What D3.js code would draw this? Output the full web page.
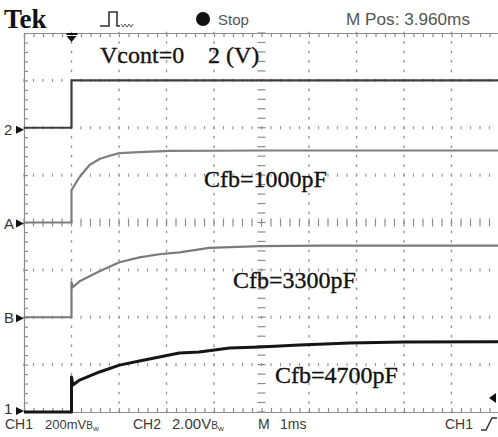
<!DOCTYPE html>
<html><head><meta charset="utf-8">
<script src="https://cdn.jsdelivr.net/npm/d3@7"></script>
<style>
html,body{margin:0;padding:0;background:#fff;}
svg{display:block;}
</style></head>
<body>
<svg id="c" width="498" height="437"></svg>
<script>
// ---- data (time in ms, CH2 in V, CH1 traces in mV) ----
const timeDomain = [-1, 9];           // 10 divisions, 1 ms/div
const divDomain = [-4, 4];            // 8 vertical divisions
const vcontTime = [-1, 0, 0, 9];
const vcontVolt = [0, 0, 2, 2];       // 0 -> 2 V step, 2 V/div
const cfb1000Time = [-1, 0, 0, 0.17, 0.38, 0.59, 0.80, 1.01, 1.43, 2.06, 3.0, 3.96, 9];
const cfb1000mV   = [0, 0, 137, 192, 243, 268, 282, 293, 297, 302, 303, 304, 304];
const cfb3300Time = [-1, 0, 0, 0.03, 0.17, 0.38, 0.59, 1.01, 1.43, 1.85, 2.27, 2.9, 3.96, 5.2, 9];
const cfb3300mV   = [0, 0, 148, 127, 152, 173, 194, 232, 253, 266, 274, 293, 300, 302, 302];
const cfb4700Time = [-1, 0, 0, 0.03, 0.17, 0.59, 1.01, 1.43, 1.85, 2.27, 2.69, 3.33, 3.96, 4.8, 5.85, 7, 9];
const cfb4700mV   = [0, 0, 148, 114, 135, 169, 198, 215, 232, 249, 253, 270, 274, 283, 291, 295, 297];
const groundDiv = {ch2: 2, A: 0, B: -2, ch1: -4};
const ch1mVperDiv = 200, ch2VperDiv = 2;
const labels = ["Cfb=1000pF", "Cfb=3300pF", "Cfb=4700pF"];
const footer = ["CH1", "200mV", "CH2", "2.00V", "M", "1ms", "CH1"];

const svg = d3.select("#c");
const x = d3.scaleLinear().domain(timeDomain).range([24, 499]);
const y = d3.scaleLinear().domain(divDomain).range([412, 33]);
const g = svg.append("g");

// ---- graticule ----
const minorX = d3.range(-1, 9.001, 0.2);
const minorY = d3.range(-4, 4.001, 0.2);
const majX = d3.range(0, 9.5, 1);
const majY = d3.range(-3, 3.5, 1);
majX.filter(t => t !== 4).forEach(t => {
  g.selectAll(null).data(minorY).enter().append("rect")
    .attr("x", x(t) - 0.7).attr("y", d => y(d) - 1.3).attr("width", 1.4).attr("height", 2.6)
    .attr("fill", "#959595");
});
majY.filter(v => v !== 0).forEach(v => {
  g.selectAll(null).data(minorX).enter().append("rect")
    .attr("x", d => x(d) - 0.6).attr("y", y(v) - 1.6).attr("width", 1.2).attr("height", 3.2)
    .attr("fill", "#9a9a9a");
});
g.selectAll(null).data(minorX).enter().append("line")
  .attr("x1", d => x(d)).attr("x2", d => x(d)).attr("y1", y(0) - 4).attr("y2", y(0) + 4)
  .attr("stroke", "#8a8a8a").attr("stroke-width", 1.2);
g.selectAll(null).data(minorY).enter().append("line")
  .attr("x1", x(4) - 4).attr("x2", x(4) + 4).attr("y1", d => y(d)).attr("y2", d => y(d))
  .attr("stroke", "#8a8a8a").attr("stroke-width", 1.2);
const topAx = d3.axisBottom(x).tickValues(minorX).tickSize(4).tickFormat("");
g.append("g").attr("transform", `translate(0,${y(4)})`).call(topAx);
const botAx = d3.axisTop(x).tickValues(minorX).tickSize(4).tickFormat("");
g.append("g").attr("transform", `translate(0,${y(-4)})`).call(botAx);
const leftAx = d3.axisRight(y).tickValues(minorY).tickSize(4).tickFormat("");
g.append("g").attr("transform", `translate(${x(-1)},0)`).call(leftAx);
g.selectAll(".domain").attr("stroke", "#8c8c8c").attr("stroke-width", 1.2);
g.selectAll(".tick line").attr("stroke", "#8c8c8c").attr("stroke-width", 1.2);

// ---- traces ----
function trace(ts, vs, conv, color, w) {
  const pts = ts.map((t, i) => [x(t), y(conv(vs[i]))]);
  svg.append("path").attr("d", d3.line()(pts)).attr("fill", "none")
    .attr("stroke", color).attr("stroke-width", w).attr("stroke-linejoin", "round");
}
trace(vcontTime, vcontVolt, v => groundDiv.ch2 + v / ch2VperDiv, "#3c3c3c", 2.2);
trace(cfb1000Time, cfb1000mV, v => groundDiv.A + v / ch1mVperDiv, "#7e7e7e", 2.2);
trace(cfb3300Time, cfb3300mV, v => groundDiv.B + v / ch1mVperDiv, "#7a7a7a", 2.2);
trace(cfb4700Time, cfb4700mV, v => groundDiv.ch1 + v / ch1mVperDiv, "#151515", 3);

// ---- ground markers ----
const sans = "Liberation Sans, Arial, sans-serif";
const marks = [["2", groundDiv.ch2, 2, 5], ["A", groundDiv.A, 1, 5], ["B", groundDiv.B, 1, 5], ["1", groundDiv.ch1, -1, 3]];
marks.forEach(([lab, d, off, tOff]) => {
  const yy = y(d) + off;
  svg.append("text").attr("x", 4).attr("y", yy + tOff).text(lab)
    .attr("font-family", sans).attr("font-size", 15).attr("fill", "#333");
  svg.append("path").attr("d", `M${x(-1) - 8},${yy - 4} L${x(-1)},${yy} L${x(-1) - 8},${yy + 4} Z`)
    .attr("fill", "#111");
});

// ---- trigger markers ----
svg.append("rect").attr("x", x(0) - 5).attr("y", 33).attr("width", 11).attr("height", 2).attr("fill", "#111");
svg.append("path").attr("d", `M${x(0) - 5},36 L${x(0) + 5},36 L${x(0)},42 Z`).attr("fill", "#111");
svg.append("path").attr("d", `M489,398 L496,393 L496,403 Z`).attr("fill", "#111");

// ---- annotations ----
const serif = "Liberation Serif, Times New Roman, serif";
function ann(txt, xx, yy) {
  svg.append("text").attr("x", xx).attr("y", yy).text(txt)
    .attr("font-family", serif).attr("font-size", 24).attr("fill", "#111")
    .attr("stroke", "#111").attr("stroke-width", 0.35);
}
ann("Vcont=0", 100, 63);
ann("2 (V)", 208, 63);
ann(labels[0], 204, 187);
ann(labels[1], 233, 288);
ann(labels[2], 275, 383);

// ---- header ----
svg.append("text").attr("x", 4).attr("y", 28).text("Tek")
  .attr("font-family", serif).attr("font-weight", "bold").attr("font-size", 27).attr("fill", "#111");
svg.append("path").attr("d", "M100,26 L109,26 L109,12 L117,12 L117,26 L120,26")
  .attr("fill", "none").attr("stroke", "#333").attr("stroke-width", 1.6);
svg.append("path").attr("d", "M121,24 L123,27 L125,24 L127,27 L129,24 L131,27 L133,24")
  .attr("fill", "none").attr("stroke", "#555").attr("stroke-width", 1);
svg.append("circle").attr("cx", 203).attr("cy", 19).attr("r", 7).attr("fill", "#111");
svg.append("text").attr("x", 218).attr("y", 25).text("Stop")
  .attr("font-family", sans).attr("font-size", 15).attr("fill", "#555");
svg.append("text").attr("x", 346).attr("y", 25).text("M Pos: 3.960ms")
  .attr("font-family", sans).attr("font-size", 16).attr("fill", "#555")
  .attr("textLength", 124).attr("lengthAdjust", "spacingAndGlyphs");

// ---- footer ----
function ft(txt, xx, size) {
  const t = svg.append("text").attr("x", xx).attr("y", 429)
    .attr("font-family", sans).attr("font-size", size || 14).attr("fill", "#3a3a3a");
  t.append("tspan").text(txt);
  return t;
}
function bw(t) {
  t.append("tspan").text("B").attr("font-size", 10);
  t.append("tspan").text("w").attr("font-size", 8).attr("dy", 2);
}
ft(footer[0], 5, 14);
bw(ft(footer[1], 45, 13));
ft(footer[2], 133, 14);
bw(ft(footer[3], 172, 15));
ft(footer[4], 258, 14);
ft(footer[5], 280, 14);
ft(footer[6], 445, 14);
svg.append("path").attr("d", "M481,430 L486,430 L492,418 L497,418")
  .attr("fill", "none").attr("stroke", "#333").attr("stroke-width", 1.5);
</script>
</body></html>
